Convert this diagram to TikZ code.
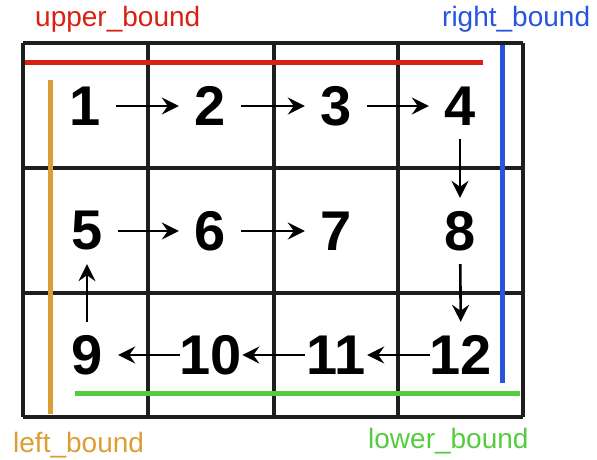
\documentclass[tikz,border=0pt]{standalone}
\usepackage{fontspec}
\setmainfont{Liberation Sans}
\usetikzlibrary{arrows.meta}
\definecolor{cred}{RGB}{218,32,18}
\definecolor{cblue}{RGB}{38,84,222}
\definecolor{corange}{RGB}{220,158,52}
\definecolor{cgreen}{RGB}{84,204,62}
\definecolor{cgrid}{RGB}{30,30,30}
\tikzset{
  num/.style={font=\fontsize{56}{56}\selectfont\bfseries, minimum width=62pt, minimum height=66pt, inner sep=0pt},
  conn/.style={line width=2.6pt, -{Stealth[length=17pt 0 0,width=17pt 0 0,inset=6pt 0 0]}},
  gridline/.style={line width=3.2pt, cgrid},
  bound/.style={line width=5pt},
  lbl/.style={font=\fontsize{28}{28}\selectfont, anchor=base west, inner sep=0pt}
}
\begin{document}
\begin{tikzpicture}[x=1pt,y=-1pt]
\useasboundingbox (0,0) rectangle (597,459);
% grid
\foreach \x in {23,148,274,398,523} \draw[gridline] (\x,43) -- (\x,417);
\foreach \y in {43,168,293,417} \draw[gridline] (23,\y) -- (523,\y);
% bounds
\draw[bound, cred] (25,62) -- (483,62);
\draw[bound, cblue] (502,45) -- (502,383);
\draw[bound, corange] (50,80) -- (50,414);
\draw[bound, cgreen] (75,393) -- (520,393);
% labels
\node[lbl, text=cred] (lu) at (35,26) {upper\_bound};
\node[lbl, text=cblue] (lr) at (442,26) {right\_bound};
\node[lbl, text=corange] (ll) at (13,452) {left\_bound};
\node[lbl, text=cgreen] (lo) at (368,448) {lower\_bound};
% numbers
\node[num] (n1) at (85,106) {1};
\node[num] (n2) at (210,106) {2};
\node[num] (n3) at (336,106) {3};
\node[num] (n4) at (460,106) {4};
\node[num] (n5) at (87,231) {5};
\node[num] (n6) at (210,231) {6};
\node[num] (n7) at (336,231) {7};
\node[num] (n8) at (460,231) {8};
\node[num] (n9) at (87,355) {9};
\node[num] (n10) at (211,355) {10};
\node[num] (n11) at (336,355) {11};
\node[num] (n12) at (461,355) {12};
% arrows
\draw[conn] (n1) -- (n2);
\draw[conn] (n2) -- (n3);
\draw[conn] (n3) -- (n4);
\draw[conn] (n4) -- (n8);
\draw[conn] (n8) -- (n12);
\draw[conn] (n12) -- (n11);
\draw[conn] (n11) -- (n10);
\draw[conn] (n10) -- (n9);
\draw[conn] (n9) -- (n5);
\draw[conn] (n5) -- (n6);
\draw[conn] (n6) -- (n7);
\end{tikzpicture}
\end{document}
